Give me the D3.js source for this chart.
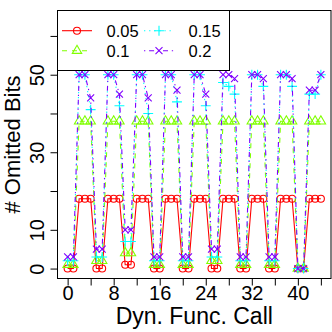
<!DOCTYPE html>
<html>
<head>
<meta charset="utf-8">
<script src="https://cdn.jsdelivr.net/npm/d3@7"></script>
<style>
  body { margin: 0; background: #fff; }
  text { font-family: "Liberation Sans", Arial, sans-serif; fill: #000; }
</style>
</head>
<body>
<div id="chart"></div>
<script>
// values: 9 groups of 5 calls (2 low, 3 high)
const calls = d3.range(0, 45);
const seriesNames = ['0.05', '0.1', '0.15', '0.2'];
const bits005 = [0,0,18,18,18, 0,0,18,18,18, 1,1,18,18,18, 0,0,18,18,18, 0,0,18,18,18,
                 0,0,18,18,18, 0,0,18,18,18, 0,0,18,18,18, 0,0,18,18,18];
const bits01  = [1,1,38,38,38, 2,2,38,38,38, 4,4,38,38,38, 1,1,38,38,38, 1,1,38,38,38,
                 2,2,38,38,38, 1,1,38,38,38, 1,1,38,38,38, 0,0,38,38,38];
const bits015 = [2,2,50,50,41, 3,3,50,50,42, 7,7,50,50,40, 2,2,50,50,43, 2,2,50,50,42,
                 3,3,48,47,45, 2,2,50,50,47, 2,2,50,50,47, 0,0,45,45,50];
const bits02  = [3,3,50,50,44, 5,5,50,50,45, 10,10,50,50,44, 3,3,50,50,46, 3,3,50,50,45,
                 5,5,50,50,49, 3,3,50,50,49, 3,3,50,50,49, 0,0,46,46,50];
const xTicks = d3.range(0, 45, 4);
const xTickLabels = [0, 8, 16, 24, 32, 40];
const yTicks = [0, 10, 20, 30, 40, 50, 60];
const yTickLabels = [0, 10, 30, 50];

const W = 332, H = 332;
const plot = { left: 57.5, right: 331, top: 10.5, bottom: 278.5 };
const colors = ['#FF0000', '#80FF00', '#00FFFF', '#8000FF'];
const dashes = [null, '5,5', '1.3,3.8', '1.3,3.8,5,3.8'];
const shapes = ['circle', 'triangle', 'plus', 'cross'];
const allSeries = [bits005, bits01, bits015, bits02];

const svg = d3.select('#chart').append('svg')
  .attr('width', W).attr('height', H);

const x = d3.scaleLinear().domain([-1.76, 45.76]).range([plot.left, plot.right]);
const y = d3.scaleLinear().domain([-2.56, 66.56]).range([plot.bottom, plot.top]);

// axes
const xAxis = svg.append('g')
  .attr('transform', `translate(0,${plot.bottom})`)
  .call(d3.axisBottom(x).tickValues(xTicks).tickSize(7).tickPadding(0)
    .tickFormat(d => xTickLabels.includes(d) ? d : ''));
xAxis.select('.domain').remove();
xAxis.selectAll('text').style('font-size', '20px');

const yAxis = svg.append('g')
  .attr('transform', `translate(${plot.left},0)`)
  .call(d3.axisLeft(y).tickValues(yTicks).tickSize(7)
    .tickFormat(d => yTickLabels.includes(d) ? d : ''));
yAxis.select('.domain').remove();
yAxis.selectAll('text')
  .style('font-size', '20px')
  .attr('x', null).attr('dy', null)
  .attr('text-anchor', 'middle')
  .attr('transform', 'translate(-14,0) rotate(-90)');

svg.append('text')
  .attr('x', (plot.left + plot.right) / 2).attr('y', 324)
  .attr('text-anchor', 'middle').style('font-size', '23px')
  .text('Dyn. Func. Call');

svg.append('text')
  .attr('transform', `translate(20,${(plot.top + plot.bottom) / 2}) rotate(-90)`)
  .attr('text-anchor', 'middle').style('font-size', '22px')
  .text('# Omitted Bits');

// marker paths, r is the circle radius
function markerPath(shape, r) {
  if (shape === 'circle') return d3.symbol(d3.symbolCircle, Math.PI * r * r)();
  if (shape === 'triangle') {
    const t = 1.555 * r, xc = 0.866 * t, yc = 0.5 * t;
    return `M0,${-t}L${xc},${yc}L${-xc},${yc}Z`;
  }
  if (shape === 'plus') {
    const a = 1.414 * r;
    return `M${-a},0H${a}M0,${-a}V${a}`;
  }
  return `M${-r},${-r}L${r},${r}M${-r},${r}L${r},${-r}`;
}

const line = d3.line().x((d, i) => x(calls[i])).y(d => y(d));

allSeries.forEach((vals, s) => {
  svg.append('path')
    .attr('d', line(vals))
    .attr('fill', 'none')
    .attr('stroke', colors[s])
    .attr('stroke-width', 1.1)
    .attr('stroke-dasharray', dashes[s]);

  svg.append('g').selectAll('path')
    .data(vals)
    .join('path')
    .attr('transform', (d, i) => `translate(${x(calls[i])},${y(d)})`)
    .attr('d', markerPath(shapes[s], 3.5))
    .attr('fill', 'none')
    .attr('stroke', colors[s])
    .attr('stroke-width', 1.1);
});

// box
svg.append('rect')
  .attr('x', plot.left).attr('y', plot.top)
  .attr('width', plot.right - plot.left).attr('height', plot.bottom - plot.top)
  .attr('fill', 'none').attr('stroke', '#000');

// legend
const legend = svg.append('g');
legend.append('rect')
  .attr('x', plot.left).attr('y', plot.top)
  .attr('width', 229.5 - plot.left).attr('height', 70.5 - plot.top)
  .attr('fill', '#fff').attr('stroke', '#000');

const legendPos = [[0, 0], [0, 1], [1, 0], [1, 1]];
seriesNames.forEach((name, s) => {
  const [col, row] = legendPos[s];
  const lx = 62 + col * 82, ly = 30.7 + row * 20;
  const g = legend.append('g');
  g.append('line')
    .attr('x1', lx).attr('x2', lx + 30).attr('y1', ly).attr('y2', ly)
    .attr('stroke', colors[s]).attr('stroke-width', 1.1)
    .attr('stroke-dasharray', dashes[s]);
  g.append('path')
    .attr('transform', `translate(${lx + 15},${ly})`)
    .attr('d', markerPath(shapes[s], 3.5))
    .attr('fill', 'none').attr('stroke', colors[s]).attr('stroke-width', 1.1);
  g.append('text')
    .attr('x', lx + 44.5).attr('y', ly + 6)
    .style('font-size', '16.5px')
    .text(name);
});
</script>
</body>
</html>
